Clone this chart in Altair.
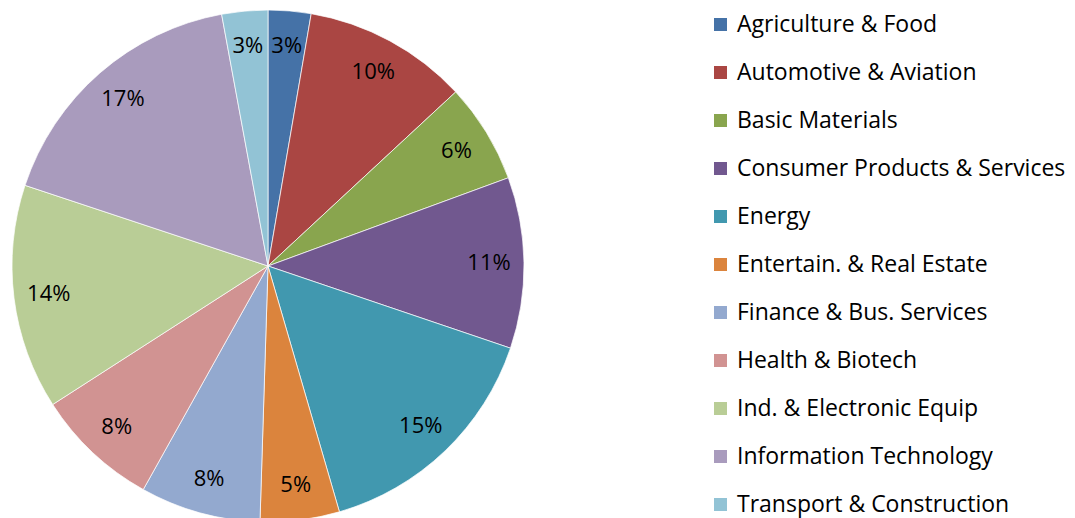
import altair as alt
import pandas as pd

sectors = [
    "Agriculture & Food", "Automotive & Aviation", "Basic Materials",
    "Consumer Products & Services", "Energy", "Entertain. & Real Estate",
    "Finance & Bus. Services", "Health & Biotech", "Ind. & Electronic Equip",
    "Information Technology", "Transport & Construction",
]
shares = [2.7, 10.4, 6.3, 10.8, 15.3, 5.0, 7.6, 7.8, 14.2, 17.0, 2.9]
colors = ["#4572A7", "#AA4643", "#89A54E", "#71588F", "#4198AF", "#DB843D",
          "#93A9CF", "#D19392", "#B9CD96", "#A99BBD", "#92C3D5"]

df = pd.DataFrame({"sector": sectors, "share": shares, "idx": list(range(len(sectors)))})

FONT = "Open Sans"

base = alt.Chart(df).encode(
    theta=alt.Theta("share:Q", stack=True),
    order=alt.Order("idx:Q"),
    x=alt.value(260),
    y=alt.value(256),
)

pie = base.mark_arc(outerRadius=256, stroke="#ffffff", strokeWidth=0.7).encode(
    color=alt.Color(
        "sector:N",
        scale=alt.Scale(domain=sectors, range=colors),
        sort=sectors,
        legend=alt.Legend(
            title=None,
            orient="none",
            legendX=701,
            legendY=3,
            symbolType="square",
            symbolSize=169,
            symbolStrokeWidth=0,
            labelFont=FONT,
            labelFontSize=23,
            labelColor="#000000",
            labelOffset=5,
            rowPadding=24,
            labelLimit=400,
        ),
    )
)

labels = base.transform_calculate(
    label="format(datum.share, '.0f') + '%'"
).mark_text(radius=221, font=FONT, fontSize=22, color="#000000").encode(
    text="label:N"
)

chart = alt.layer(pie, labels).properties(
    width=1059, height=510, padding=0
).configure_view(stroke=None)

chart.save("out.html", embed_options={"renderer": "svg", "actions": False})
